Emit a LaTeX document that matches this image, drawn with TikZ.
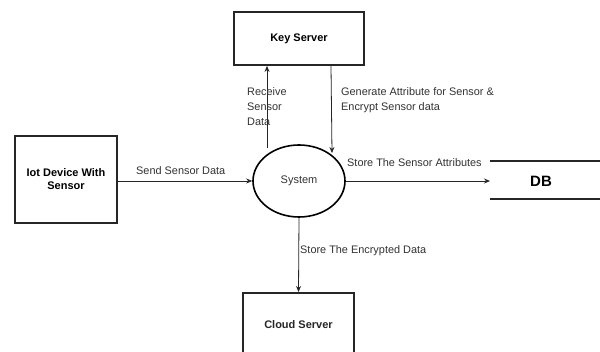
\documentclass[tikz,border=0pt]{standalone}
\usepackage{fontspec}
\setmainfont{Liberation Sans}
\usetikzlibrary{arrows.meta,shapes.geometric}
\begin{document}
\begin{tikzpicture}[x=1pt,y=-1pt,
  entity/.style={draw=black!85, line width=1.8pt, fill=white, font=\bfseries\fontsize{11}{13}\selectfont, align=center, inner sep=0pt},
  flow/.style={draw=black!85, line width=0.8pt, -{Stealth[length=6pt,width=5pt]}},
  lbl/.style={font=\fontsize{10.9}{15}\selectfont, text=black!80, inner sep=0pt, align=left}]
  \useasboundingbox (0,0) rectangle (600,352);
  \clip (0,0) rectangle (600,352);
  \fill[white] (0,0) rectangle (600,352);

  % external entities
  \node[entity, minimum width=130pt, minimum height=53pt] (key) at (299,38.5) {Key Server};
  \node[entity, minimum width=102pt, minimum height=87pt] (iot) at (66,179.5) {Iot Device With\\Sensor};
  \node[entity, minimum width=111pt, minimum height=80pt, anchor=north] (cloud) at (298.5,292) {};
  \node[font=\bfseries\fontsize{11}{13}\selectfont, text=black!85] (cloudtxt) at (298.5,325) {Cloud Server};

  % central process
  \node[draw=black, line width=1.6pt, ellipse, minimum width=92pt, minimum height=72pt, inner sep=0pt,
        font=\fontsize{11}{13}\selectfont, text=black!80] (sys) at (299,181) {System};

  % data store
  \coordinate (dbl) at (490,181);
  \draw[black!85, line width=1.4pt] (490,161) -- (600,161) (490,199) -- (600,199);
  \node[font=\bfseries\fontsize{15}{17}\selectfont] (db) at (541,181) {DB};

  % flows
  \draw[flow] (iot.east |- 0,181) -- (sys.west);
  \draw[flow] (sys.north -| 267,0) ++(0,4) -- (key.south -| 267,0);
  \draw[flow] (key.south -| 331,0) -- (332,153);
  \draw[flow] (sys.east) -- (dbl);
  \draw[flow] (sys.south) -- (cloud.north);

  % flow labels
  \node[lbl, anchor=north west] (l2) at (247,87) {Receive\\Sensor\\Data};
  \node[lbl, anchor=north west] (l3) at (341,87) {Generate Attribute for Sensor \&\\Encrypt Sensor data};
  \node[lbl, anchor=west] (l1) at (136,171) {Send Sensor Data};
  \node[lbl, anchor=west] (l4) at (347,163) {Store The Sensor Attributes};
  \node[lbl, anchor=west] (l5) at (300,251) {Store The Encrypted Data};
\end{tikzpicture}
\end{document}
